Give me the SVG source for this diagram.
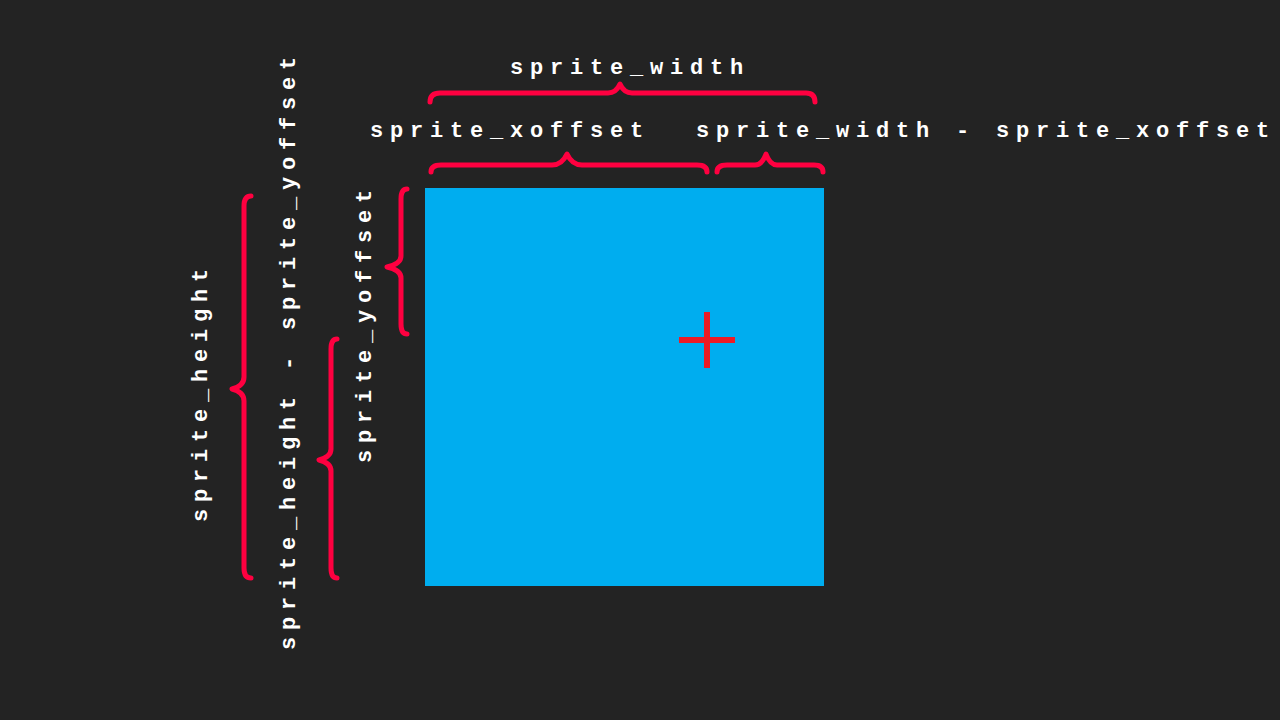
<svg xmlns="http://www.w3.org/2000/svg" width="1280" height="720" viewBox="0 0 1280 720">
<style>
.lbl{font-family:"Liberation Mono","DejaVu Sans Mono",monospace;font-weight:bold;font-size:22px;fill:#ffffff;letter-spacing:6.8px}
.brace{fill:none;stroke:#ff0040;stroke-width:5;stroke-linecap:round;stroke-linejoin:round}
</style>
<rect width="1280" height="720" fill="#232323"/>
<g id="sprite">
<rect x="425" y="188" width="399" height="398" fill="#00adef"/>
<rect x="679" y="337" width="56" height="6" fill="#ed1c24"/>
<rect x="704" y="312" width="6" height="56" fill="#ed1c24"/>
</g>
<g id="braces">
<path class="brace" d="M430,102 Q430,93 440,93 L608,93 Q616,93 620,84 Q624,93 632,93 L806,93 Q815,93 815,102"/>
<path class="brace" d="M431,172 Q431,165 441,165 L552,165 Q562,165 567,154 Q572,165 582,165 L697,165 Q707,165 707,172"/>
<path class="brace" d="M717,172 Q717,165 727,165 L755,165 Q762,165 766,154 Q770,165 777,165 L814,165 Q823,165 823,172"/>
<path class="brace" d="M251,196 Q244,196 244,206 L244,377 Q244,386 232,389 Q244,392 244,401 L244,568 Q244,578 251,578"/>
<path class="brace" d="M337,339 Q331,339 331,349 L331,449 Q331,457 319,460 Q331,463 331,471 L331,568 Q331,578 337,578"/>
<path class="brace" d="M407,189 Q401,189 401,199 L401,256 Q401,264 387,267 Q401,270 401,278 L401,324 Q401,334 407,334"/>
</g>
<g id="labels">
<text class="lbl" x="510" y="74">sprite_width</text>
<text class="lbl" x="370" y="137">sprite_xoffset</text>
<text class="lbl" x="696" y="137">sprite_width - sprite_xoffset</text>
<text class="lbl" transform="translate(207,522) rotate(-90)">sprite_height</text>
<text class="lbl" transform="translate(295,650) rotate(-90)">sprite_height - sprite_yoffset</text>
<text class="lbl" transform="translate(371,463) rotate(-90)">sprite_yoffset</text>
</g>
</svg>
